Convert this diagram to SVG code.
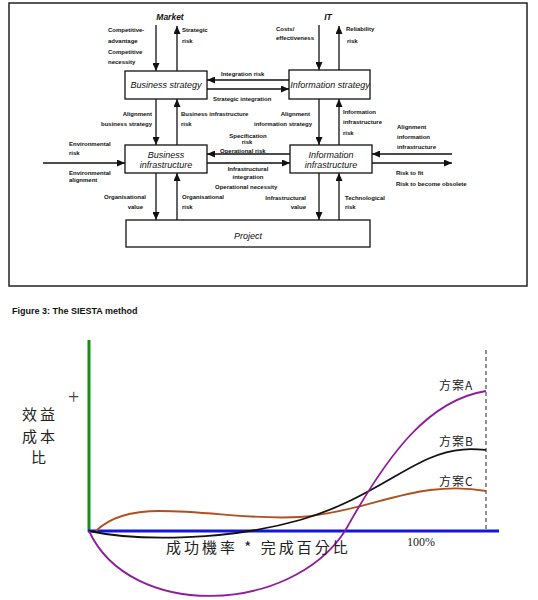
<svg xmlns="http://www.w3.org/2000/svg" width="538" height="600" viewBox="0 0 538 600">
<style>
.box{fill:#fff;stroke:#111;stroke-width:1.3}
.t{font-family:"Liberation Sans",Arial,sans-serif;font-size:6px;font-weight:bold;fill:#111}
.bt{font-family:"Liberation Sans",Arial,sans-serif;font-size:9px;font-style:italic;fill:#111;text-anchor:middle}
.hd{font-family:"Liberation Sans",Arial,sans-serif;font-size:8.5px;font-style:italic;font-weight:bold;fill:#111;text-anchor:middle}
.c{stroke:#111;stroke-width:1.3;fill:none;marker-end:url(#ah)}
.m{text-anchor:middle}
.e{text-anchor:end}
.cjk{font-family:"Noto Sans CJK TC","Noto Sans CJK SC",serif;fill:#222}
.curve{fill:none;stroke-width:1.8}
</style>
<defs>
<marker id="ah" markerUnits="userSpaceOnUse" markerWidth="8" markerHeight="7" refX="8" refY="3.5" orient="auto">
<path d="M0,0 L8,3.5 L0,7 z" fill="#111"/>
</marker>
</defs>
<rect x="9" y="3" width="518" height="283" fill="none" stroke="#222" stroke-width="1.5"/>
<g id="connectors">
<line class="c" x1="156" y1="25" x2="156" y2="71"/>
<line class="c" x1="177" y1="71" x2="177" y2="26"/>
<line class="c" x1="319" y1="25" x2="319" y2="70"/>
<line class="c" x1="339" y1="70" x2="339" y2="26"/>
<line class="c" x1="156" y1="99" x2="156" y2="145"/>
<line class="c" x1="177" y1="145" x2="177" y2="99"/>
<line class="c" x1="319" y1="99" x2="319" y2="145"/>
<line class="c" x1="339" y1="145" x2="339" y2="99"/>
<line class="c" x1="156" y1="173" x2="156" y2="220"/>
<line class="c" x1="177" y1="220" x2="177" y2="173"/>
<line class="c" x1="319" y1="173" x2="319" y2="220"/>
<line class="c" x1="339" y1="220" x2="339" y2="173"/>
<line class="c" x1="289" y1="80" x2="207" y2="80"/>
<line class="c" x1="207" y1="89" x2="289" y2="89"/>
<line class="c" x1="290" y1="154" x2="207" y2="154"/>
<line class="c" x1="207" y1="163" x2="290" y2="163"/>
<line class="c" x1="43" y1="163" x2="125" y2="163"/>
<line class="c" x1="452" y1="154" x2="372" y2="154"/>
<line class="c" x1="372" y1="163" x2="452" y2="163"/>
</g>
<g id="market"><text class="hd" x="170" y="20">Market</text></g>
<g id="it"><text class="hd" x="328" y="20">IT</text></g>
<g id="business-strategy">
<rect class="box" x="125" y="71" width="82" height="28"/>
<text class="bt" x="166" y="88">Business strategy</text>
</g>
<g id="information-strategy">
<rect class="box" x="289" y="70" width="81" height="29"/>
<text class="bt" x="330" y="88">Information strategy</text>
</g>
<g id="business-infrastructure">
<rect class="box" x="125" y="145" width="82" height="28"/>
<text class="bt" x="166" y="158">Business</text>
<text class="bt" x="166" y="167.5">infrastructure</text>
</g>
<g id="information-infrastructure">
<rect class="box" x="290" y="145" width="82" height="28"/>
<text class="bt" x="331" y="158">Information</text>
<text class="bt" x="331" y="167.5">infrastructure</text>
</g>
<g id="project">
<rect class="box" x="126" y="220" width="244" height="27"/>
<text class="bt" x="248" y="239">Project</text>
</g>
<g id="labels">
<text class="t" x="108" y="32">Competitive-</text>
<text class="t" x="108" y="43">advantage</text>
<text class="t" x="108" y="54">Competitive</text>
<text class="t" x="108" y="64">necessity</text>
<text class="t" x="182" y="32">Strategic</text>
<text class="t" x="182" y="43">risk</text>
<text class="t" x="276" y="31">Costs/</text>
<text class="t" x="276" y="40">effectiveness</text>
<text class="t" x="346" y="31">Reliability</text>
<text class="t" x="347" y="43">risk</text>
<text class="t" x="221" y="76">Integration risk</text>
<text class="t" x="213" y="101">Strategic integration</text>
<text class="t e" x="152" y="116">Alignment</text>
<text class="t e" x="152" y="126">business  strategy</text>
<text class="t" x="181" y="116">Business infrastructure</text>
<text class="t" x="181" y="126">risk</text>
<text class="t e" x="310" y="116">Alignment</text>
<text class="t e" x="312" y="126">information strategy</text>
<text class="t" x="343" y="114">Information</text>
<text class="t" x="343" y="124">infrastructure</text>
<text class="t" x="343" y="135">risk</text>
<text class="t" x="397" y="129">Alignment</text>
<text class="t" x="397" y="139">information</text>
<text class="t" x="397" y="149">infrastructure</text>
<text class="t m" x="248" y="138">Specification</text>
<text class="t m" x="247" y="144">risk</text>
<text class="t" x="220" y="152.5">Operational  risk</text>
<text class="t m" x="248" y="171">Infrastructural</text>
<text class="t m" x="248" y="179">integration</text>
<text class="t" x="215" y="189">Operational necessity</text>
<text class="t" x="69" y="146">Environmental</text>
<text class="t" x="69" y="155">risk</text>
<text class="t" x="69" y="175">Environmental</text>
<text class="t" x="69" y="182">alignment</text>
<text class="t e" x="146" y="199">Organisational</text>
<text class="t e" x="143" y="209">value</text>
<text class="t" x="182" y="199">Organisational</text>
<text class="t" x="182" y="209">risk</text>
<text class="t e" x="306" y="200">Infrastructural</text>
<text class="t e" x="306" y="209">value</text>
<text class="t" x="345" y="200">Technological</text>
<text class="t" x="345" y="209">risk</text>
<text class="t" x="396" y="175">Risk to fit</text>
<text class="t" x="396" y="186">Risk to become obsolete</text>
</g>
<text x="12" y="314" font-family="'Liberation Sans',Arial,sans-serif" font-size="9" font-weight="bold" fill="#111">Figure 3: The SIESTA method</text>
<g id="chart">
<line x1="89" y1="340" x2="89" y2="532" stroke="#1a8a1a" stroke-width="3"/>
<line x1="486" y1="350" x2="486" y2="531" stroke="#222" stroke-width="1" stroke-dasharray="4,3"/>
<line x1="88" y1="531" x2="499" y2="531" stroke="#1414e6" stroke-width="3"/>
<path class="curve" stroke="#b0501e" d="M96,531 C112,515 135,511 160,511 C210,511 250,520 300,517 C350,513 390,495 430,490 C455,487 475,489 486,491"/>
<path class="curve" stroke="#111" d="M89,531 C140,542 230,540 300,520 C360,503 400,470 430,458 C455,447 475,449 486,450"/>
<path class="curve" stroke="#8e1c9c" d="M89,531 C130,620 290,615 345,531 C390,450 430,400 486,391"/>
<text x="68" y="404" font-family="'Liberation Serif',serif" font-size="20" fill="#444">+</text>
<text class="cjk" x="22" y="420" font-size="15" letter-spacing="3">效益</text>
<text class="cjk" x="22" y="442" font-size="15" letter-spacing="3">成本</text>
<text class="cjk" x="31" y="463" font-size="15">比</text>
<text class="cjk" x="166" y="553" font-size="15" letter-spacing="3">成功機率 * 完成百分比</text>
<text x="407" y="546" font-family="'Liberation Serif',serif" font-size="12" fill="#222">100%</text>
<text class="cjk" x="439" y="390" font-size="12" fill="#8e1c9c" letter-spacing="1">方案A</text>
<text class="cjk" x="439" y="446" font-size="12" letter-spacing="1">方案B</text>
<text class="cjk" x="439" y="486" font-size="12" fill="#a0302a" letter-spacing="1">方案C</text>
</g>
</svg>
